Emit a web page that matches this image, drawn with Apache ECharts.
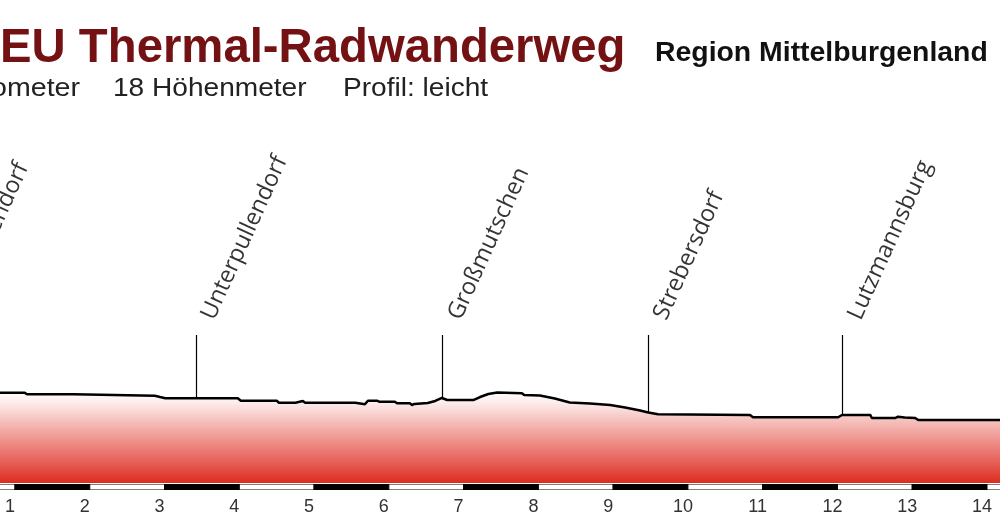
<!DOCTYPE html>
<html>
<head>
<meta charset="utf-8">
<script src="https://cdn.jsdelivr.net/npm/echarts@6/dist/echarts.min.js"></script>
<style>
html,body{margin:0;padding:0;background:#fff;}
#chart{width:1000px;height:520px;}
</style>
</head>
<body>
<div id="chart"></div>
<script>
// Elevation profile: [km, metres]
const profileKm = [0.73,1.13,1.16,1.78,1.80,2.87,2.94,3.01,3.98,4.02,4.50,4.53,4.75,4.77,4.85,4.88,5.55,5.57,5.68,5.72,5.84,5.87,6.08,6.11,6.28,6.31,6.34,6.52,6.62,6.71,6.78,7.13,7.22,7.33,7.45,7.78,7.81,8.02,8.22,8.42,8.69,8.96,9.16,9.36,9.47,9.60,10.83,10.87,11.43,11.46,12.01,12.06,12.44,12.46,12.77,12.81,12.90,13.04,13.08,14.30];
const profileM  = [250.5,250.5,247.8,247.8,245.5,245.5,243.3,241.2,241.2,237.2,237.2,233.8,233.8,236.7,236.7,233.8,233.8,231.2,231.2,237.2,237.2,235.5,235.5,232.8,232.8,230.0,231.7,233.3,236.7,241.7,238.3,238.3,243.3,248.3,250.8,249.5,246.7,245.8,240.8,234.2,232.5,230.0,225.8,220.8,217.5,214.5,213.3,209.5,209.5,209.5,209.5,213.3,213.3,208.3,208.3,210.5,209.2,208.3,205.0,205.0];

// Places along the route
const placeNames = ['Oberpullendorf','Unterpullendorf','Großmutschen','Strebersdorf','Lutzmannsburg'];
const placeKm    = [0.0, 3.42, 6.72, 9.47, 12.07];
const placeBaseM = [250.5, 241.5, 241.0, 217.0, 212.5];
const placeTopM  = 346.7;

// Kilometre ticks and scale-bar segments
const kmTicks = [1,2,3,4,5,6,7,8,9,10,11,12,13,14];
const bandStarts = [0,1,2,3,4,5,6,7,8,9,10,11,12,13,14];

const title = 'EU Thermal-Radwanderweg';
const region = 'Region Mittelburgenland';
const subParts = ['ometer', '18 Höhenmeter', 'Profil: leicht'];

const chart = echarts.init(document.getElementById('chart'), null, {renderer:'canvas'});

const profileData = profileKm.map((k,i)=>[k, profileM[i]]);
const markLines = placeKm.map((k,i)=>[{coord:[k, placeTopM]},{coord:[k, placeBaseM[i]]}]);
const labelData = placeKm.map((k,i)=>({name:placeNames[i], value:[k, placeTopM]}));
const bandData = bandStarts.map((s,i)=>[s, s+1, i%2]);

const xMin = 0.79938, xMax = 14.1739;

const option = {
  animation:false,
  backgroundColor:'#ffffff',
  grid:[
    {left:0, right:0, top:123, bottom:37, show:false},
    {left:0, right:0, top:484, height:6, show:false}
  ],
  xAxis:[
    {type:'value', gridIndex:0, min:xMin, max:xMax, show:false},
    {type:'value', gridIndex:1, min:xMin, max:xMax,
     axisLine:{show:false}, axisTick:{show:false}, splitLine:{show:false},
     axisLabel:{show:true, customValues:kmTicks, margin:8, color:'#333', fontSize:18,
       fontFamily:'"Liberation Sans",Arial,sans-serif',
       padding:[0,10,0,0], formatter:function(v){return String(v);}}}
  ],
  yAxis:[
    {type:'value', gridIndex:0, min:100, max:700, show:false},
    {type:'value', gridIndex:1, min:0, max:1, show:false}
  ],
  series:[
    {
      type:'line', xAxisIndex:0, yAxisIndex:0, data:profileData,
      symbol:'none', z:3,
      lineStyle:{color:'#000', width:2.5},
      areaStyle:{origin:'start', opacity:1,
        color:new echarts.graphic.LinearGradient(0,392,0,484,[
          {offset:0, color:'#ffffff'},
          {offset:0.12, color:'#fcebea'},
          {offset:0.45, color:'#f1a39d'},
          {offset:0.75, color:'#e6625a'},
          {offset:1, color:'#dc2a1d'}
        ], true)},
      markLine:{silent:true, symbol:['none','none'], animation:false,
        lineStyle:{color:'#000', width:1.2, type:'solid'}, label:{show:false},
        data:markLines}
    },
    {
      type:'scatter', xAxisIndex:0, yAxisIndex:0, data:labelData, clip:false,
      symbolSize:0, z:5,
      label:{show:true, position:[0,0], formatter:'{b}', rotate:65.5, align:'left', verticalAlign:'middle',
        offset:[20,4], color:'#000', fontSize:23.5, fontFamily:'"Open Sans",sans-serif'}
    },
    {
      type:'custom', xAxisIndex:1, yAxisIndex:1, data:bandData, clip:true,
      renderItem:function(params, api){
        const p0 = api.coord([api.value(0), 1]);
        const p1 = api.coord([api.value(1), 0]);
        return {type:'rect', shape:{x:p0[0], y:p0[1], width:p1[0]-p0[0], height:p1[1]-p0[1]},
          style:{fill: api.value(2)===0 ? '#ffffff' : '#000000', stroke:'#000', lineWidth:1}};
      }
    }
  ],
  graphic:[
    {type:'text', z:10, style:{text:title, x:0, y:49, font:'bold 47.3px "Liberation Sans",Arial,sans-serif', fill:'#741113', verticalAlign:'middle', align:'left'}},
    {type:'text', z:10, style:{text:region, x:655, y:53, font:'bold 28.4px "Liberation Sans",Arial,sans-serif', fill:'#111', verticalAlign:'middle', align:'left'}},
    {type:'text', z:10, x:-9, y:89, scaleX:1.1, style:{text:subParts[0], x:0, y:0, font:'26px "Liberation Sans",Arial,sans-serif', fill:'#222', verticalAlign:'middle', align:'left'}},
    {type:'text', z:10, x:113, y:89, scaleX:1.08, style:{text:subParts[1], x:0, y:0, font:'26px "Liberation Sans",Arial,sans-serif', fill:'#222', verticalAlign:'middle', align:'left'}},
    {type:'text', z:10, x:343, y:89, scaleX:1.08, style:{text:subParts[2], x:0, y:0, font:'26px "Liberation Sans",Arial,sans-serif', fill:'#222', verticalAlign:'middle', align:'left'}}
  ]
};
chart.setOption(option);
</script>
</body>
</html>
